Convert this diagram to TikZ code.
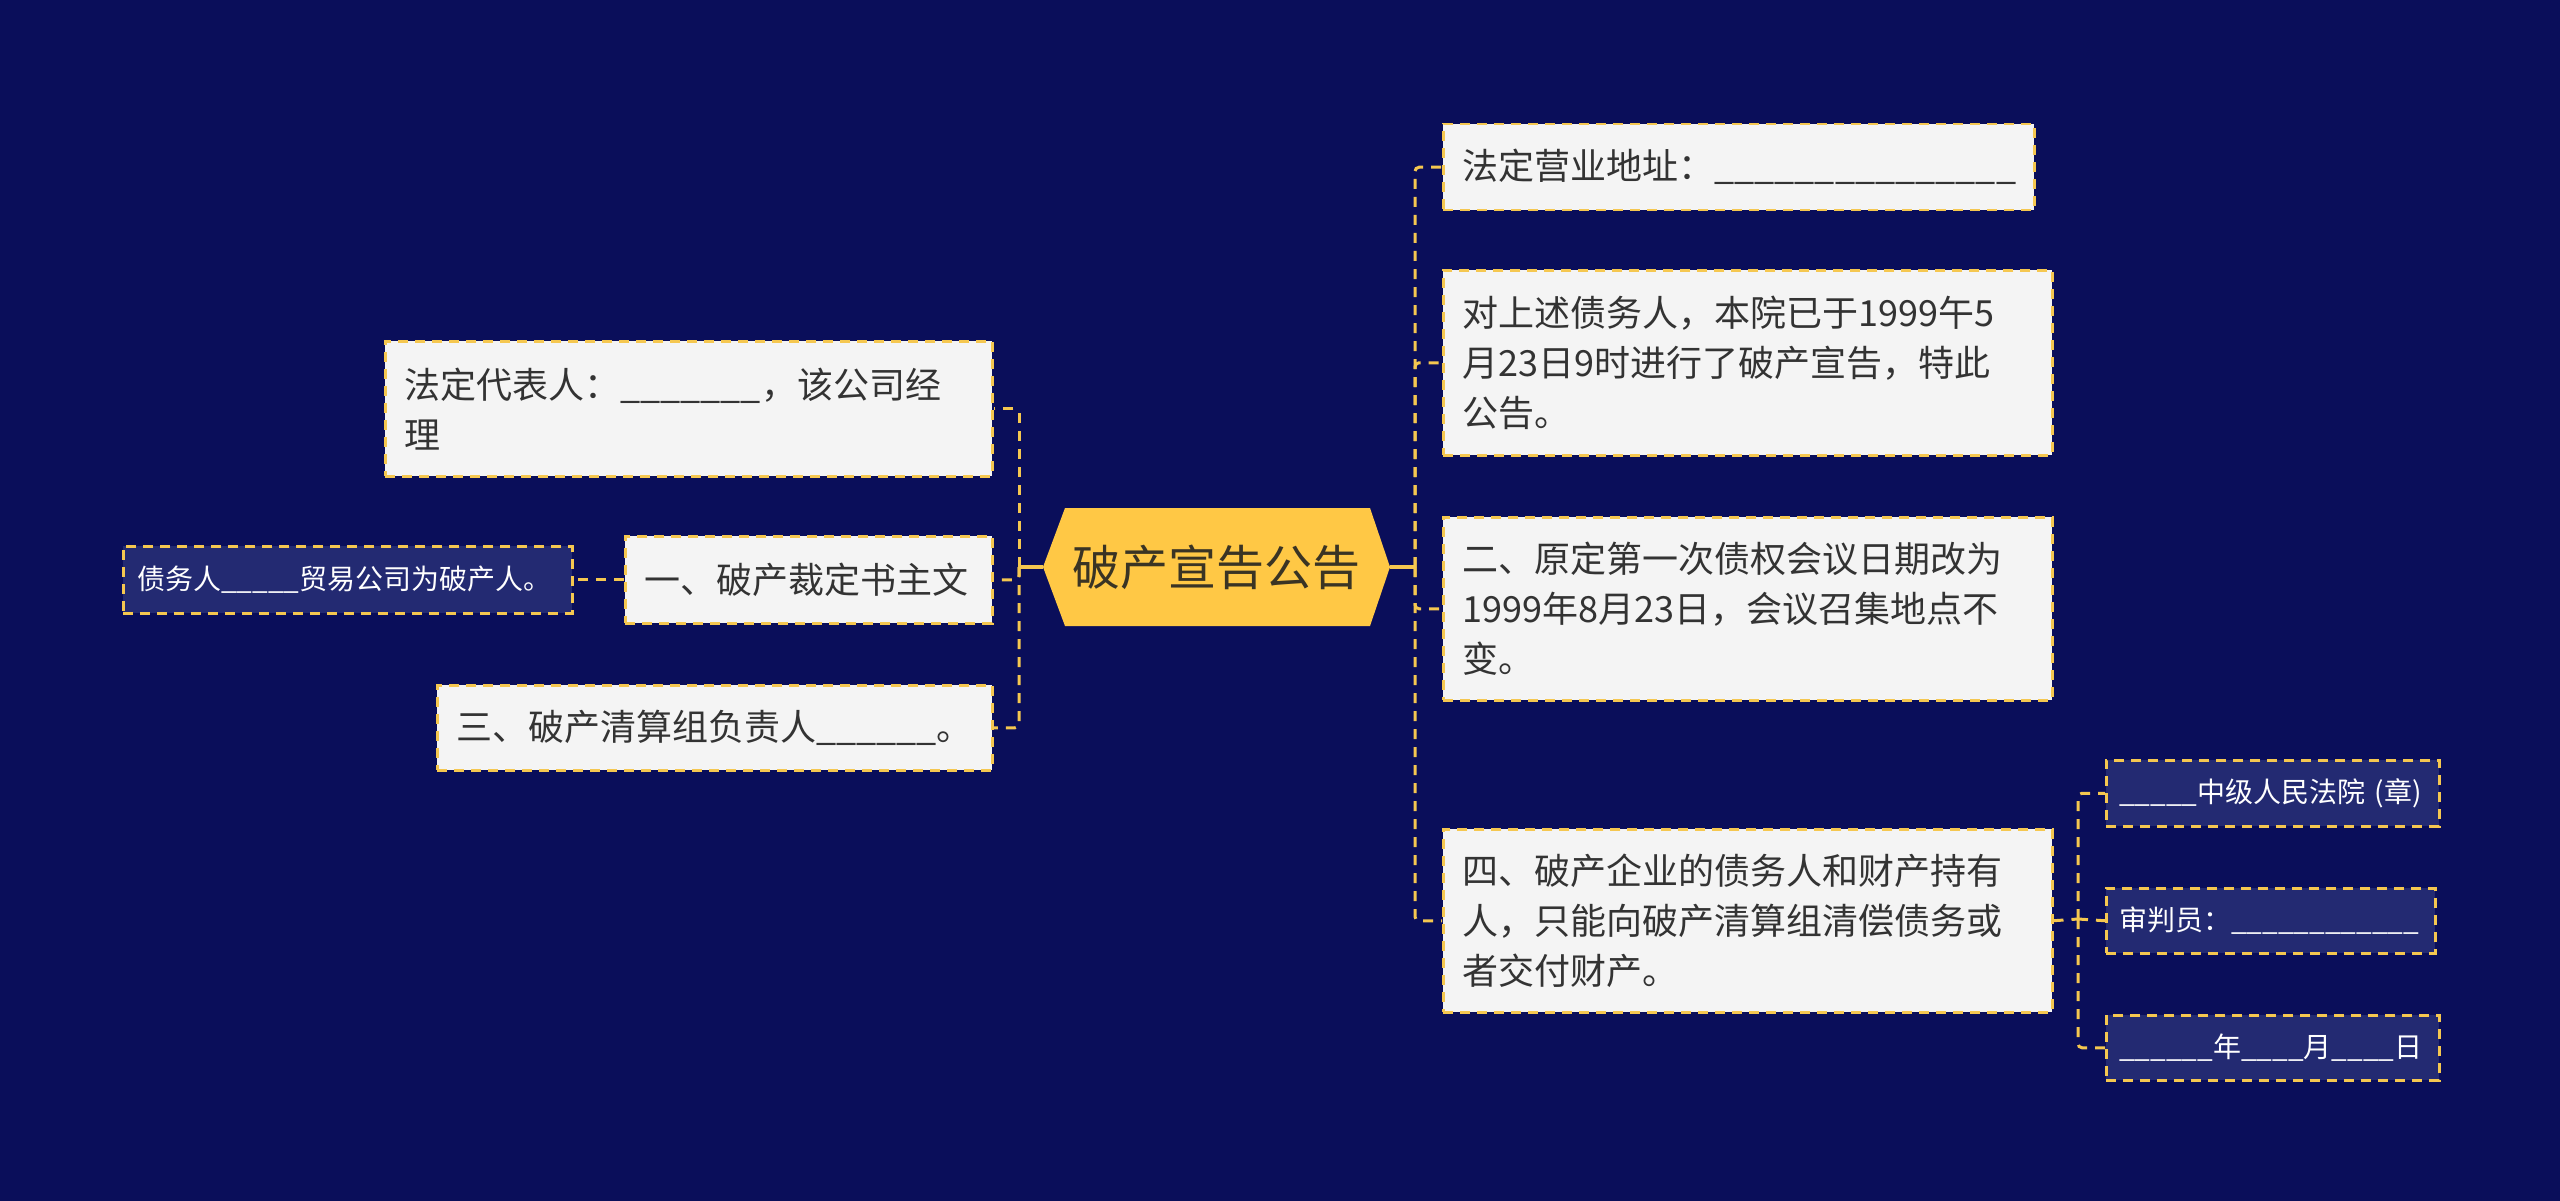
\documentclass[tikz,border=0pt]{standalone}
\usepackage{fontspec}
\newfontfamily\cjk{Noto Sans CJK SC}
\definecolor{bgc}{HTML}{0A0E5A}
\definecolor{ylw}{HTML}{F5C750}
\definecolor{rootfill}{HTML}{FFC845}
\definecolor{roottxt}{HTML}{3A3424}
\definecolor{lightfill}{HTML}{F4F4F4}
\definecolor{darkfill}{HTML}{232A72}
\definecolor{txt}{HTML}{333333}
\newcommand\us[1]{\foreach \i in {1,...,#1}{\_}}
\begin{document}
\begin{tikzpicture}[x=1pt,y=-1pt,
  boxbase/.style={draw=ylw, line width=2.5pt, dash pattern=on 10pt off 7pt, anchor=north west, align=left, inner ysep=0pt},
  lightbox/.style={boxbase, fill=lightfill, text=txt, inner xsep=19pt, font=\cjk\fontsize{36}{50}\selectfont},
  darkbox/.style={boxbase, fill=darkfill, text=white, inner xsep=14pt, font=\cjk\fontsize{28}{36}\selectfont},
  dconn/.style={draw=ylw, line width=3pt, dash pattern=on 10pt off 8pt, rounded corners=4pt},
  sconn/.style={draw=ylw, line width=3.5pt},
]
\useasboundingbox[fill=bgc] (0,0) rectangle (2560,1201);

% central hexagon
\fill[rootfill] (1043,567) -- (1065,508) -- (1370,508) -- (1390,567) -- (1370,626) -- (1065,626) -- cycle;
\node[inner sep=0pt, minimum width=347pt, minimum height=118pt, text=roottxt, font=\cjk\fontsize{48}{56}\selectfont] (root) at (1216.5,567) {破产宣告公告};

% left side
\node[lightbox, minimum width=607pt, minimum height=135pt, text width=569pt] (A) at (384,340) {法定代表人：\us{7}，该公司经\\理};
\node[lightbox, minimum width=367pt, minimum height=87pt, text width=329pt] (B) at (624,535) {一、破产裁定书主文};
\node[lightbox, minimum width=555pt, minimum height=85pt, text width=517pt] (C) at (436,684) {三、破产清算组负责人\us{6}。};
\node[darkbox, minimum width=449pt, minimum height=67pt, text width=421pt, inner xsep=14pt] (D) at (122,545) {债务人\us{5}贸易公司为破产人。};

% right side
\node[lightbox, minimum width=591pt, minimum height=86pt, text width=553pt] (E) at (1442,123) {法定营业地址：\us{15}};
\node[lightbox, minimum width=609pt, minimum height=185pt, text width=571pt] (F) at (1442,269) {对上述债务人，本院已于1999午5\\月23日9时进行了破产宣告，特此\\公告。};
\node[lightbox, minimum width=609pt, minimum height=183pt, text width=571pt] (G) at (1442,516) {二、原定第一次债权会议日期改为\\1999年8月23日，会议召集地点不\\变。};
\node[lightbox, minimum width=609pt, minimum height=183pt, text width=571pt] (H) at (1442,828) {四、破产企业的债务人和财产持有\\人，只能向破产清算组清偿债务或\\者交付财产。};

\node[darkbox, minimum width=333pt, minimum height=66pt, text width=307pt, inner xsep=13pt] (I) at (2105,759) {\us{5}中级人民法院 (章)};
\node[darkbox, minimum width=329pt, minimum height=65pt, text width=303pt, inner xsep=13pt] (J) at (2105,887) {审判员：\us{12}};
\node[darkbox, minimum width=333pt, minimum height=65pt, text width=307pt, inner xsep=13pt] (K) at (2105,1014) {\us{6}年\us{4}月\us{4}日};

% connectors
\coordinate (lt) at (1019,567);
\coordinate (rt) at (1415,567);
\coordinate (rt2) at (2078,919);

\draw[sconn] (root.west) -- (lt);
\draw[sconn] (root.east) -- (rt);

\draw[dconn] (lt) |- (A.east);
\draw[dconn] (lt) |- (B.east);
\draw[dconn] (lt) |- (C.east);
\draw[dconn] (B.west) -- (D.east);

\draw[dconn] (rt) |- (E.west);
\draw[dconn] (rt) |- (F.west);
\draw[dconn] (rt) |- (G.west);
\draw[dconn] (rt) |- (H.west);

\draw[dconn] (H.east) -- (rt2);
\draw[dconn] (rt2) |- (I.west);
\draw[dconn] (rt2) -- (J.west);
\draw[dconn] (rt2) |- (K.west);
\end{tikzpicture}
\end{document}
